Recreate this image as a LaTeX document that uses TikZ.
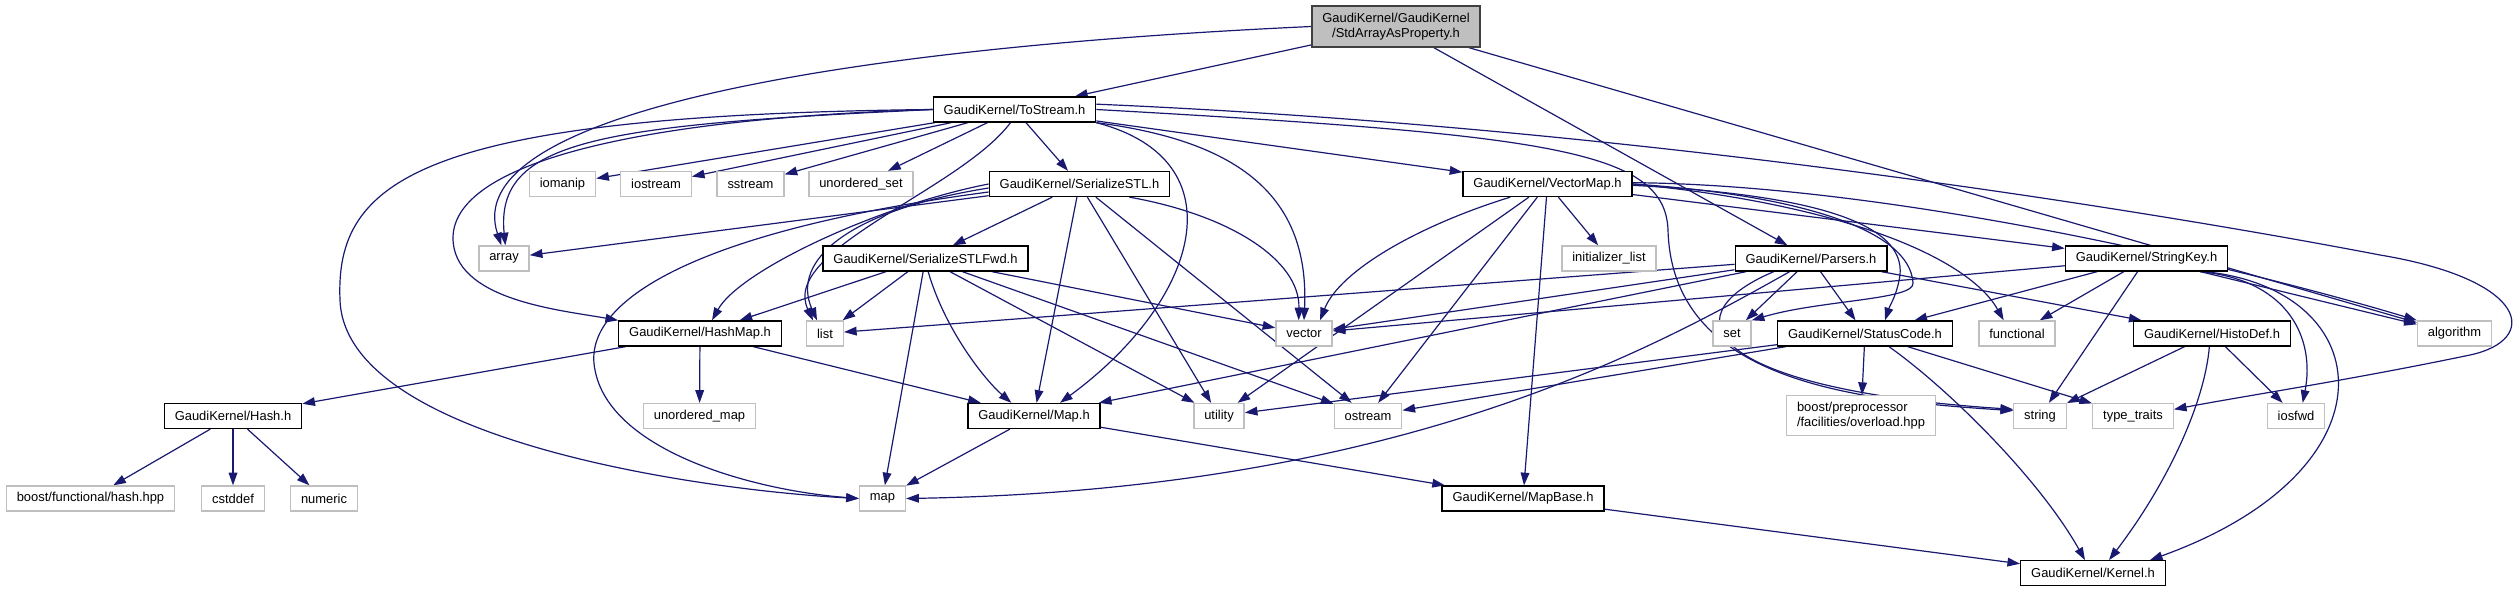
\documentclass[tikz,border=0pt]{standalone}
\usepackage{fontspec}
\setmainfont{Liberation Sans}
\usetikzlibrary{arrows.meta,backgrounds}
\definecolor{edgeblue}{HTML}{191970}
\definecolor{sysgray}{HTML}{BFBFBF}
\definecolor{rootgray}{HTML}{BFBFBF}
\definecolor{rootline}{HTML}{404040}
\begin{document}
\begin{tikzpicture}[x=0.75pt,y=-0.75pt,
  hdr/.style={draw=black, fill=white, line width=1pt, inner xsep=7.8pt,
    inner ysep=2pt, minimum height=18.75pt, font=\fontsize{9.7pt}{11.6pt}\selectfont},
  syshdr/.style={hdr, draw=sysgray},
  roothdr/.style={hdr, draw=rootline, fill=rootgray, align=center, minimum height=30.75pt},
  inc/.style={draw=edgeblue, line width=0.9pt, -{Triangle[length=9.5pt,width=6.5pt]}}]
  \useasboundingbox (0,0) rectangle (2513,592);
  \node[roothdr] (root) at (1396,26.5) {GaudiKernel/GaudiKernel\\/StdArrayAsProperty.h};
  \node[hdr] (tostream) at (1014.5,109.5) {GaudiKernel/ToStream.h};
  \node[syshdr] (iomanip) at (562.5,184) {iomanip};
  \node[syshdr] (iostream) at (656,184) {iostream};
  \node[syshdr] (sstream) at (750.5,184) {sstream};
  \node[syshdr] (uset) at (861,184) {unordered\_set};
  \node[hdr] (sstl) at (1079.5,184) {GaudiKernel/SerializeSTL.h};
  \node[hdr] (vmap) at (1547.5,184) {GaudiKernel/VectorMap.h};
  \node[syshdr] (array) at (504,258.5) {array};
  \node[hdr] (sstlfwd) at (925.5,258.5) {GaudiKernel/SerializeSTLFwd.h};
  \node[syshdr] (initlist) at (1609,258.5) {initializer\_list};
  \node[hdr] (parsers) at (1811,258.5) {GaudiKernel/Parsers.h};
  \node[hdr] (stringkey) at (2146.5,258.5) {GaudiKernel/StringKey.h};
  \node[hdr] (hashmap) at (700,333.5) {GaudiKernel/HashMap.h};
  \node[syshdr] (list) at (825,333.5) {list};
  \node[syshdr] (vector) at (1304,333.5) {vector};
  \node[syshdr] (set) at (1732,333.5) {set};
  \node[hdr] (statuscode) at (1865,333.5) {GaudiKernel/StatusCode.h};
  \node[syshdr] (functional) at (2017,333.5) {functional};
  \node[hdr] (histodef) at (2212,333.5) {GaudiKernel/HistoDef.h};
  \node[syshdr] (algorithm) at (2454.5,333.5) {algorithm};
  \node[hdr] (hash) at (233,416) {GaudiKernel/Hash.h};
  \node[syshdr] (umap) at (699.5,416) {unordered\_map};
  \node[hdr] (maph) at (1034,416) {GaudiKernel/Map.h};
  \node[syshdr] (utility) at (1219,416) {utility};
  \node[syshdr] (ostream) at (1368,416) {ostream};
  \node[syshdr, align=left, minimum height=30pt] (bpp) at (1861,415.7) {boost/preprocessor\\/facilities/overload.hpp};
  \node[syshdr] (string) at (2040,416) {string};
  \node[syshdr] (typetraits) at (2133,416) {type\_traits};
  \node[syshdr] (iosfwd) at (2296,416) {iosfwd};
  \node[syshdr] (bfh) at (90.5,498.5) {boost/functional/hash.hpp};
  \node[syshdr] (cstddef) at (233,498.5) {cstddef};
  \node[syshdr] (numeric) at (324,498.5) {numeric};
  \node[syshdr] (map) at (882.5,498.5) {map};
  \node[hdr] (mapbase) at (1523,498.5) {GaudiKernel/MapBase.h};
  \node[hdr] (kernel) at (2093,573.3) {GaudiKernel/Kernel.h};
  \begin{scope}[on background layer]
    \draw[inc] (root.west) .. controls (800,50) and (460,120) .. ([xshift=-2pt]array.north);
    \draw[inc] (root) -- (tostream);
    \draw[inc] (root) -- (parsers);
    \draw[inc] (root) -- (algorithm);
    \draw[inc] (tostream.west) .. controls (600,125) and (495,140) .. ([xshift=1pt]array.north);
    \draw[inc] (tostream) -- (iomanip);
    \draw[inc] (tostream) -- (iostream);
    \draw[inc] (tostream) -- (sstream);
    \draw[inc] (tostream) -- (uset);
    \draw[inc] (tostream.west) .. controls (650,118) and (455,160) .. (453,237)
      .. controls (452,300) and (560,310) .. (hashmap.north west);
    \draw[inc] (tostream.west) .. controls (420,115) and (335,180) .. (340,300)
      .. controls (345,440) and (700,490) .. (map.west);
    \draw[inc] ([xshift=-3pt]tostream.south) .. controls (960,190) and (780,250) .. ([xshift=-9pt]list.north);
    \draw[inc] (tostream) -- (sstl);
    \draw[inc] (tostream.south east) .. controls (1240,160) and (1200,300) .. ([xshift=19.5pt]maph.north);
    \draw[inc] (tostream.south east) .. controls (1230,140) and (1310,190) .. (vector.north);
    \draw[inc] (tostream) -- (vmap);
    \draw[inc] (tostream.east) .. controls (1550,135) and (1665,150) .. (1668,230)
      .. controls (1672,380) and (1850,400) .. ([yshift=4pt]string.west);
    \draw[inc] ([yshift=4pt]tostream.east) .. controls (1700,130) and (2250,230) .. (2380,255)
      .. controls (2530,280) and (2540,340) .. (2470,355)
      .. controls (2350,380) and (2250,395) .. ([yshift=5pt]typetraits.east);
    \draw[inc] (sstl) -- (array);
    \draw[inc] (sstl.west) .. controls (880,205) and (740,270) .. ([xshift=9pt]hashmap.north);
    \draw[inc] ([yshift=-3pt]sstl.west) .. controls (850,210) and (790,260) .. ([xshift=-6pt]list.north);
    \draw[inc] ([yshift=-6pt]sstl.west) .. controls (700,230) and (580,300) .. (595,370)
      .. controls (610,450) and (750,490) .. (map.west);
    \draw[inc] (sstl) -- (sstlfwd);
    \draw[inc] (sstl) -- (maph);
    \draw[inc] (sstl) -- (utility);
    \draw[inc] (sstl) -- (ostream);
    \draw[inc] ([xshift=37.5pt]sstl.south) .. controls (1230,215) and (1300,260) .. ([xshift=-4pt]vector.north);
    \draw[inc] (sstlfwd) -- (hashmap);
    \draw[inc] (sstlfwd) -- (list);
    \draw[inc] (sstlfwd) -- (map);
    \draw[inc] ([xshift=2pt]sstlfwd.south) .. controls (945,330) and (985,380) .. ([xshift=-17pt]maph.north);
    \draw[inc] (sstlfwd) -- (utility);
    \draw[inc] (sstlfwd) -- (ostream);
    \draw[inc] (sstlfwd) -- (vector);
    \draw[inc] (vmap) -- (initlist);
    \draw[inc] ([xshift=-28pt]vmap.south) .. controls (1420,225) and (1340,270) .. ([xshift=12pt]vector.north);
    \draw[inc] (vmap) -- (utility);
    \draw[inc] (vmap) -- (ostream);
    \draw[inc] (vmap) -- (mapbase);
    \draw[inc] (vmap) -- (stringkey);
    \draw[inc] (vmap.east) .. controls (1850,205) and (1970,260) .. ([xshift=-10pt]functional.north);
    \draw[inc] ([yshift=1pt]vmap.east) .. controls (1900,185) and (2250,270) .. (algorithm.north west);
    \draw[inc] (vmap.east) .. controls (1800,195) and (1910,230) .. (1913,283)
      .. controls (1915,300) and (1820,300) .. (set.north east);
    \draw[inc] ([yshift=-1pt]vmap.east) .. controls (1820,195) and (1905,225) .. (1900,275)
      .. controls (1897,295) and (1890,305) .. ([xshift=15pt]statuscode.north);
    \draw[inc] (parsers) -- (list);
    \draw[inc] (parsers) -- (vector);
    \draw[inc] (parsers) -- (maph);
    \draw[inc] ([xshift=-16pt]parsers.south) .. controls (1650,350) and (1400,490) .. (map.east);
    \draw[inc] (parsers) -- (set);
    \draw[inc] (parsers) -- (statuscode);
    \draw[inc] (parsers) -- (histodef);
    \draw[inc] ([xshift=-28pt]parsers.south) .. controls (1660,320) and (1720,390) .. ([yshift=5pt]string.west);
    \draw[inc] (stringkey) -- (vector);
    \draw[inc] (stringkey) -- (statuscode);
    \draw[inc] (stringkey) -- (functional);
    \draw[inc] (stringkey) -- (string);
    \draw[inc] ([xshift=40pt]stringkey.south) .. controls (2290,280) and (2315,340) .. ([xshift=5pt]iosfwd.north);
    \draw[inc] ([xshift=44pt]stringkey.south) .. controls (2380,290) and (2400,470) .. ([xshift=-12pt]kernel.north east);
    \draw[inc] (stringkey) -- (algorithm);
    \draw[inc] (statuscode) -- (bpp);
    \draw[inc] ([xshift=18pt]statuscode.south) .. controls (1950,390) and (2040,480) .. ([xshift=-6pt]kernel.north);
    \draw[inc] (statuscode) -- (typetraits);
    \draw[inc] (statuscode) -- (utility);
    \draw[inc] (statuscode) -- (ostream);
    \draw[inc] (histodef) -- (string);
    \draw[inc] (histodef) -- (iosfwd);
    \draw[inc] ([xshift=-2pt]histodef.south) .. controls (2205,400) and (2170,480) .. ([xshift=12pt]kernel.north);
    \draw[inc] (hashmap) -- (hash);
    \draw[inc] (hashmap) -- (umap);
    \draw[inc] (hashmap) -- (maph);
    \draw[inc] (hash) -- (bfh);
    \draw[inc] (hash) -- (cstddef);
    \draw[inc] (hash) -- (numeric);
    \draw[inc] (maph) -- (map);
    \draw[inc] (maph) -- (mapbase);
    \draw[inc] (mapbase) -- (kernel);
  \end{scope}
\end{tikzpicture}
\end{document}
